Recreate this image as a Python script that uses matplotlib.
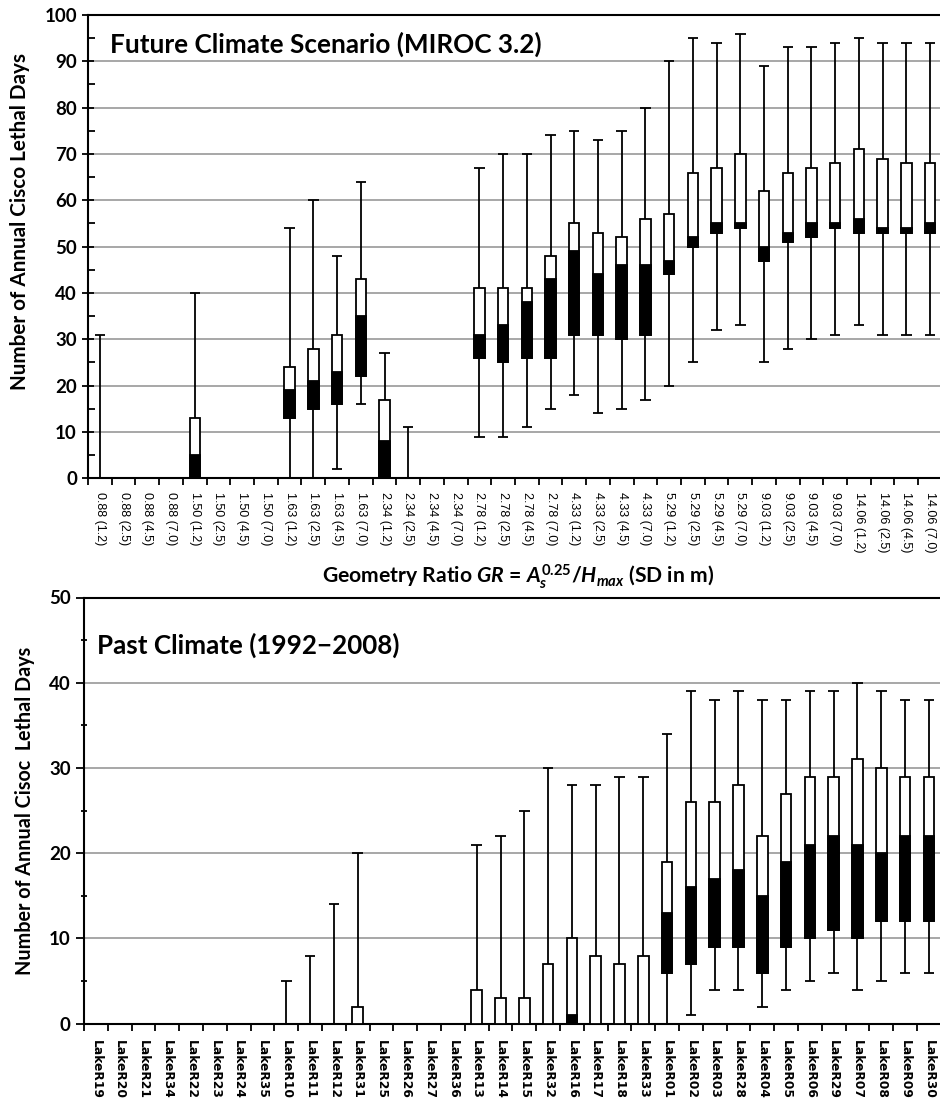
import numpy as np
import matplotlib
matplotlib.use('Agg')
import matplotlib.pyplot as plt
from matplotlib.ticker import MultipleLocator

plt.rcParams['font.family'] = ['Lato', 'DejaVu Sans']
plt.rcParams['mathtext.fontset'] = 'custom'
plt.rcParams['mathtext.rm'] = 'Lato:bold'
plt.rcParams['mathtext.it'] = 'Lato:bold:italic'
plt.rcParams['mathtext.bf'] = 'Lato:bold'

# future climate (MIROC 3.2) - categories are GR (SD)
gr_vals = ['0.88', '1.50', '1.63', '2.34', '2.78', '4.33', '5.29', '9.03', '14.06']
sd_vals = ['1.2', '2.5', '4.5', '7.0']
fut_labels = [g + ' (' + s + ')' for g in gr_vals for s in sd_vals]

fut_min = [0, 0, 0, 0, 0, 0, 0, 0, 0, 0, 2, 16, 0, 0, 0, 0,
           9, 9, 11, 15, 18, 14, 15, 17, 20, 25, 32, 33, 25, 28, 30, 31, 33, 31, 31, 31]
fut_q1 = [0, 0, 0, 0, 0, 0, 0, 0, 13, 15, 16, 22, 0, 0, 0, 0,
          26, 25, 26, 26, 31, 31, 30, 31, 44, 50, 53, 54, 47, 51, 52, 54, 53, 53, 53, 53]
fut_med = [0, 0, 0, 0, 5, 0, 0, 0, 19, 21, 23, 35, 8, 0, 0, 0,
           31, 33, 38, 43, 49, 44, 46, 46, 47, 52, 55, 55, 50, 53, 55, 55, 56, 54, 54, 55]
fut_q3 = [0, 0, 0, 0, 13, 0, 0, 0, 24, 28, 31, 43, 17, 0, 0, 0,
          41, 41, 41, 48, 55, 53, 52, 56, 57, 66, 67, 70, 62, 66, 67, 68, 71, 69, 68, 68]
fut_max = [31, 0, 0, 0, 40, 0, 0, 0, 54, 60, 48, 64, 27, 11, 0, 0,
           67, 70, 70, 74, 75, 73, 75, 80, 90, 95, 94, 96, 89, 93, 93, 94, 95, 94, 94, 94]

# past climate (1992-2008) - lakes
past_labels = ['LakeR19', 'LakeR20', 'LakeR21', 'LakeR34', 'LakeR22', 'LakeR23', 'LakeR24', 'LakeR35',
               'LakeR10', 'LakeR11', 'LakeR12', 'LakeR31', 'LakeR25', 'LakeR26', 'LakeR27', 'LakeR36',
               'LakeR13', 'LakeR14', 'LakeR15', 'LakeR32', 'LakeR16', 'LakeR17', 'LakeR18', 'LakeR33',
               'LakeR01', 'LakeR02', 'LakeR03', 'LakeR28', 'LakeR04', 'LakeR05', 'LakeR06', 'LakeR29',
               'LakeR07', 'LakeR08', 'LakeR09', 'LakeR30']
past_min = [0]*24 + [0, 1, 4, 4, 2, 4, 5, 6, 4, 5, 6, 6]
past_q1 = [0]*24 + [6, 7, 9, 9, 6, 9, 10, 11, 10, 12, 12, 12]
past_med = [0]*20 + [1, 0, 0, 0] + [13, 16, 17, 18, 15, 19, 21, 22, 21, 20, 22, 22]
past_q3 = [0]*11 + [2, 0, 0, 0, 0, 4, 3, 3, 7, 10, 8, 7, 8] + [19, 26, 26, 28, 22, 27, 29, 29, 31, 30, 29, 29]
past_max = [0]*8 + [5, 8, 14, 20, 0, 0, 0, 0, 21, 22, 25, 30, 28, 28, 29, 29] + \
           [34, 39, 38, 39, 38, 38, 39, 39, 40, 39, 38, 38]


def draw_boxes(ax, mins, q1, med, q3, maxs):
    x = np.arange(len(mins))
    mins = np.array(mins); q1 = np.array(q1); med = np.array(med)
    q3 = np.array(q3); maxs = np.array(maxs)
    w = 0.44
    has = maxs > 0
    ax.vlines(x[has], mins[has], maxs[has], color='black', lw=1.3, zorder=3)
    ax.hlines(maxs[has], x[has] - w / 2, x[has] + w / 2, color='black', lw=1.3, zorder=3)
    lo = has & (mins > 0)
    ax.hlines(mins[lo], x[lo] - w / 2, x[lo] + w / 2, color='black', lw=1.3, zorder=3)
    bx = q3 > 0
    ax.bar(x[bx], q3[bx] - q1[bx], bottom=q1[bx], width=w, color='white',
           edgecolor='black', lw=1.3, zorder=4)
    bk = med > q1
    ax.bar(x[bk], med[bk] - q1[bk], bottom=q1[bk], width=w, color='black',
           edgecolor='black', lw=1.3, zorder=5)


def style_axis(ax, top, step, labels, lab_font):
    ax.set_xlim(-0.5, len(labels) - 0.5)
    ax.set_ylim(0, top)
    yt = np.arange(0, top + 1, step)
    ax.set_yticks(yt, [str(v) for v in yt], fontweight='bold', fontsize=13.5)
    ax.yaxis.set_minor_locator(MultipleLocator(step / 2))
    ax.grid(axis='y', which='major', color='#a0a0a0', lw=1.3, zorder=0)
    ax.set_axisbelow(True)
    for s in ['left', 'bottom', 'top']:
        ax.spines[s].set_linewidth(1.5)
    ax.spines['right'].set_visible(False)
    ax.set_xticks(np.arange(len(labels) + 1) - 0.5, minor=False)
    ax.set_xticklabels([])
    ax.set_xticks(np.arange(len(labels)), minor=True)
    ax.set_xticklabels(labels, minor=True, rotation=270, **lab_font)
    ax.tick_params(axis='x', which='major', direction='out', length=5, width=1.3)
    ax.tick_params(axis='x', which='minor', length=0)
    ax.tick_params(axis='y', which='major', direction='inout', length=9, width=1.3)
    ax.tick_params(axis='y', which='minor', direction='in', length=5, width=1.3)


fig = plt.figure(figsize=(9.4, 11.01), dpi=100)

ax1 = fig.add_axes([88 / 940, 1 - 478.3 / 1101, 36 * 23.72 / 940, 463.3 / 1101])
draw_boxes(ax1, fut_min, fut_q1, fut_med, fut_q3, fut_max)
style_axis(ax1, 100, 10, fut_labels, dict(family='Liberation Sans', fontsize=9))
ax1.tick_params(axis='x', which='minor', pad=10)

ax2 = fig.add_axes([84 / 940, 1 - 1023.7 / 1101, 36 * 23.8 / 940, 426.2 / 1101])
draw_boxes(ax2, past_min, past_q1, past_med, past_q3, past_max)
style_axis(ax2, 50, 10, past_labels, dict(family='DejaVu Sans', fontsize=8.8, fontweight='bold'))
ax2.tick_params(axis='x', which='minor', pad=12)
ax2.tick_params(axis='y', which='minor', direction='inout')
ax2.tick_params(axis='y', which='major', direction='out', length=6)

fig.text(110 / 940, 1 - 44 / 1101, 'Future Climate Scenario (MIROC 3.2)',
         fontsize=18.8, fontweight='bold', va='center', ha='left')
fig.text(97 / 940, 1 - 645 / 1101, 'Past Climate (1992\u22122008)',
         fontsize=18.7, fontweight='bold', va='center', ha='left')

fig.text(20 / 940, 1 - 222 / 1101, 'Number of Annual Cisco Lethal Days',
         rotation=90, fontsize=14.9, fontweight='bold', va='center', ha='center')
fig.text(25 / 940, 1 - 811 / 1101, 'Number of Annual Cisoc  Lethal Days',
         rotation=90, fontsize=14.2, fontweight='bold', va='center', ha='center')

fig.text(518 / 940, 1 - 577 / 1101,
         r'Geometry Ratio $\mathit{GR}$ = $\mathit{A_s^{0.25}/H_{max}}$ (SD in m)',
         fontsize=15.2, fontweight='bold', va='center', ha='center')

fig.savefig('out.png', dpi=100)
